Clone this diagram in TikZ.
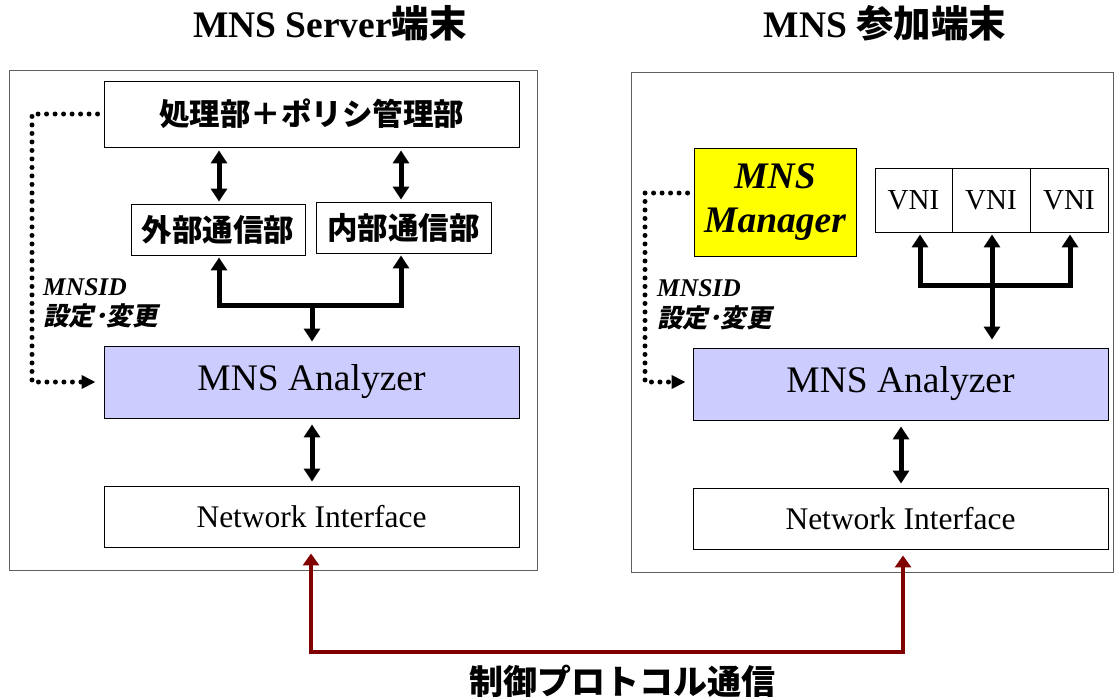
\documentclass[tikz,border=0pt]{standalone}
\usepackage{fontspec}
\setmainfont{Liberation Serif}
\newfontfamily\cjk{Noto Sans CJK JP}
\newfontfamily\cjksl{Noto Sans CJK JP}[FakeSlant=0.2]
\usetikzlibrary{arrows.meta}
\definecolor{lav}{HTML}{CCCCFF}
\definecolor{dred}{HTML}{800000}
\definecolor{ygold}{HTML}{FFFF00}
\definecolor{frame}{HTML}{606060}
\begin{document}
\begin{tikzpicture}[x=1pt,y=-1pt,
  box/.style={draw=black, line width=0.9pt, inner sep=0pt, fill=white},
  outer/.style={draw=frame, line width=1pt, inner sep=0pt},
  tipb/.tip={Triangle[width=16pt,length=13pt]},
  arr/.style={line width=5pt, line join=miter, -tipb},
  darr/.style={line width=5pt, tipb-tipb},
  dotl/.style={line width=5pt, line cap=round, dash pattern=on 0pt off 8.5pt, -{Triangle[width=13pt,length=14pt]}},
  red/.style={draw=dred, line width=4.5pt, line join=miter, {Triangle[width=16pt,length=12pt]}-{Triangle[width=16pt,length=12pt]}},
  jp/.style={font=\cjk\bfseries\fontsize{30.5}{32}\selectfont},
  lbl/.style={anchor=west, inner sep=0pt}
]
\useasboundingbox (0,0) rectangle (1115,696);

% titles
\node (tL) at (330,23) {\fontsize{37.5}{40}\selectfont\bfseries MNS Server{\cjk 端末}};
\node (tR) at (885,23) {\fontsize{37.5}{40}\selectfont\bfseries MNS {\cjk 参加端末}};

% outer frames
\node[outer, minimum width=528, minimum height=500] (oL) at (273,320) {};
\node[outer, minimum width=482, minimum height=500] (oR) at (872,322) {};

% left side boxes
\node[box, minimum width=415, minimum height=66, jp] (proc) at (311.5,114) {処理部＋ポリシ管理部};
\node[box, minimum width=174, minimum height=51, jp] (ext) at (218,229.5) {外部通信部};
\node[box, minimum width=175, minimum height=51, jp] (int) at (403.5,227.5) {内部通信部};
\node[box, fill=lav, minimum width=415, minimum height=72, font=\fontsize{37.5}{40}\selectfont] (anaL) at (311.5,382) {MNS Analyzer};
\node[box, minimum width=415, minimum height=61, font=\fontsize{31.5}{33}\selectfont] (niL) at (311.5,516.5) {Network Interface};

% right side boxes
\node[box, fill=ygold, minimum width=162, minimum height=108, align=center, font=\fontsize{37.5}{44}\selectfont\bfseries\itshape] (mgr) at (775,202) {MNS\\Manager};
\node[box, minimum width=77, minimum height=64, font=\fontsize{29}{31}\selectfont] (v1) at (913.5,200) {VNI};
\node[box, minimum width=78, minimum height=64, font=\fontsize{29}{31}\selectfont] (v2) at (991,200) {VNI};
\node[box, minimum width=78, minimum height=64, font=\fontsize{29}{31}\selectfont] (v3) at (1069,200) {VNI};
\node[box, fill=lav, minimum width=415, minimum height=72, font=\fontsize{37.5}{40}\selectfont] (anaR) at (900.5,384) {MNS Analyzer};
\node[box, minimum width=415, minimum height=61, font=\fontsize{31.5}{33}\selectfont] (niR) at (900.5,518.5) {Network Interface};

% labels
\node[lbl, font=\fontsize{25.5}{27}\selectfont\bfseries\itshape] (idL) at (43,287) {MNSID};
\node[lbl, font=\cjksl\bfseries\fontsize{25.5}{27}\selectfont] (setL) at (43,316) {設定･変更};
\node[lbl, font=\fontsize{25.5}{27}\selectfont\bfseries\itshape] (idR) at (657,288) {MNSID};
\node[lbl, font=\cjksl\bfseries\fontsize{25.5}{27}\selectfont] (setR) at (657,318) {設定･変更};
\node (ctl) at (622,681) {\cjk\bfseries\fontsize{34}{36}\selectfont 制御プロトコル通信};

% left arrows
\draw[darr, shorten <=3pt, shorten >=2pt] (proc.south -| 219,0) -- (ext.north -| 219,0);
\draw[darr, shorten <=3pt, shorten >=2pt] (proc.south -| 401,0) -- (int.north -| 401,0);
\coordinate (fL) at (219,305);
\coordinate (fR) at (401,305);
\coordinate (fM) at (312,305);
\draw[arr, shorten >=2pt] (fM) -- (fL) -- (fL |- ext.south);
\draw[arr, shorten >=2pt] (fM) -- (fR) -- (fR |- int.south);
\draw[arr, shorten >=4pt] (fM) -- (fM |- anaL.north);
\draw[darr, shorten <=6pt, shorten >=4pt] (anaL.south -| 312,0) -- (niL.north -| 312,0);

% right arrows
\coordinate (gL) at (920,285);
\coordinate (gR) at (1070,285);
\coordinate (gM) at (992,285);
\draw[arr, shorten >=2pt] (gM) -- (gL) -- (gL |- v1.south);
\draw[arr, shorten >=2pt] (gM) -- (gR) -- (gR |- v3.south);
\draw[darr, shorten <=2pt, shorten >=8pt] (v2.south -| gM) -- (anaR.north -| gM);
\draw[darr, shorten <=6pt, shorten >=4pt] (anaR.south -| 901,0) -- (niR.north -| 901,0);

% dotted control lines
\coordinate (dL1) at (32,114);
\coordinate (dL2) at (32,382);
\draw[dotl, shorten >=8pt] ([xshift=-6pt]proc.west) -- (dL1) -- (dL2) -- (anaL.west);
\coordinate (dR1) at (645,193);
\coordinate (dR2) at (645,382);
\draw[dotl, shorten >=7pt] ([xshift=-6pt]mgr.west |- dR1) -- (dR1) -- (dR2) -- (anaR.west |- dR2);

% control protocol
\coordinate (rL) at (311,652);
\coordinate (rR) at (903,652);
\draw[red, shorten <=6pt, shorten >=6pt] (niL.south -| rL) -- (rL) -- (rR) -- (niR.south -| rR);
\end{tikzpicture}
\end{document}
